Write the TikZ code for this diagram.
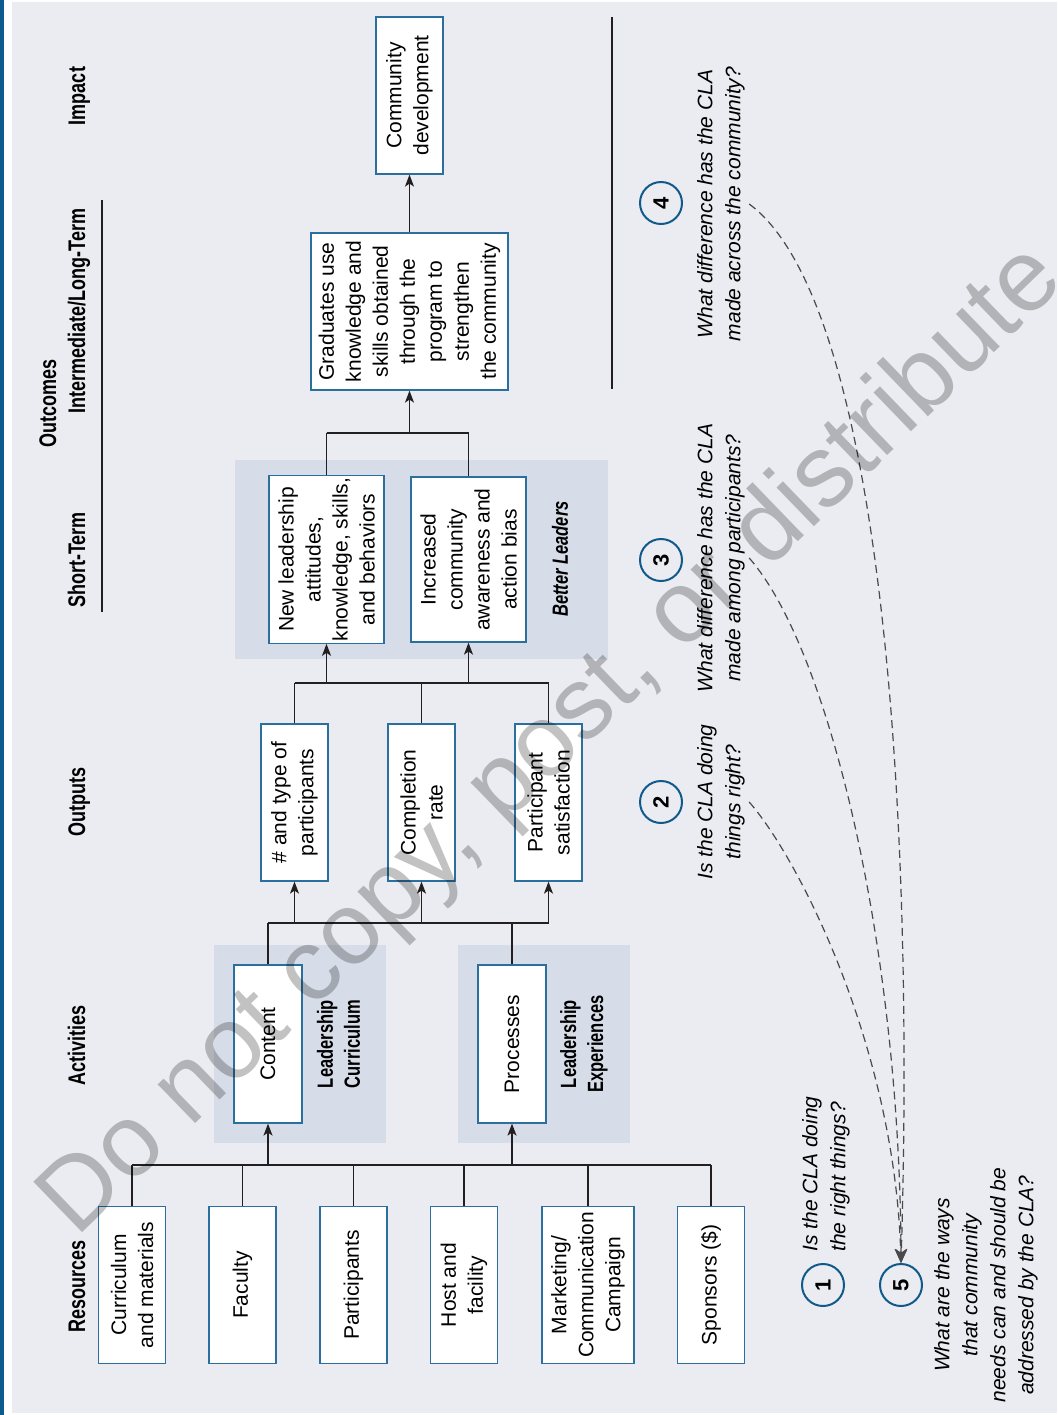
\documentclass[tikz,border=0pt]{standalone}
\usepackage{fontspec}
\setmainfont{Liberation Sans}
\newfontfamily\headfont[FakeStretch=0.75]{Liberation Sans}
\usetikzlibrary{arrows.meta}
\definecolor{pagebg}{HTML}{EBECF1}
\definecolor{grpbg}{HTML}{D6DCE8}
\definecolor{boxblue}{HTML}{2B6F9F}
\definecolor{barblue}{HTML}{0B5B8F}
\definecolor{circblue}{HTML}{0F5A8A}
\definecolor{dashgray}{HTML}{4A4A4A}
\definecolor{linkblack}{HTML}{231F20}

\begin{document}
\begin{tikzpicture}[x=0.5pt,y=-0.5pt]
\tikzset{
  box/.style={draw=boxblue,line width=0.6pt,fill=white,rotate=90,align=center,inner sep=1pt,font=\fontsize{10.5}{13.5}\selectfont},
  tall/.style={box,minimum width=78.5pt,minimum height=33.5pt},
  head/.style={rotate=90,anchor=base,font=\headfont\fontsize{12}{14}\selectfont\bfseries},
  grplabel/.style={rotate=90,align=center,font=\headfont\fontsize{11}{13.5}\selectfont\bfseries},
  ques/.style={rotate=90,align=center,inner sep=2pt,font=\fontsize{10.5}{14}\selectfont\itshape},
  num/.style={circle,draw=circblue,line width=1pt,minimum size=21pt,inner sep=0pt,rotate=90,font=\fontsize{11}{11}\selectfont\bfseries},
  link/.style={draw=linkblack,line width=0.7pt},
  up/.style={link,-{Stealth[length=6pt,width=4.5pt,inset=1.5pt]}},
  qline/.style={draw=dashgray,line width=0.6pt,dash pattern=on 4pt off 2.5pt,-{Stealth[length=7pt,width=6pt,inset=2pt]}},
}
% page
\fill[white] (0,0) rectangle (1057,1415);
\fill[pagebg] (12,2) rectangle (1057,1413);
\fill[barblue] (0,0) rectangle (4,1415);
\useasboundingbox (0,0) rectangle (1057,1415);

% shaded groups
\fill[grpbg] (214,945) rectangle (386,1143);
\fill[grpbg] (458,945) rectangle (630,1143);
\fill[grpbg] (235,460) rectangle (608,659);

% column heads
\node[head] (hres) at (85,1286) {Resources};
\node[head] (hact) at (85,1045) {Activities};
\node[head] (hout) at (85,802) {Outputs};
\node[head] (hst) at (85,560) {Short-Term};
\node[head] (hlt) at (85,311) {Intermediate/Long-Term};
\node[head] (himp) at (85,96) {Impact};
\node[head] (hoc) at (56,403) {Outcomes};
\draw[link] (102,200) -- (102,612);
\draw[link] (612,17) -- (612,389);

% resources
\node[tall] (res1) at (132,1285) {Curriculum\\and materials};
\node[tall] (res2) at (242.5,1285) {Faculty};
\node[tall] (res3) at (353.5,1285) {Participants};
\node[tall] (res4) at (464,1285) {Host and\\facility};
\node[tall,minimum height=46pt] (res5) at (588,1285) {Marketing/\\Communication\\Campaign};
\node[tall] (res6) at (711,1285) {Sponsors (\$)};

% activities
\node[tall,minimum width=79pt,minimum height=34pt] (act1) at (268,1044) {Content};
\node[tall,minimum width=79pt,minimum height=34pt] (act2) at (512,1044) {Processes};
\node[grplabel] (lcur) at (338.5,1044) {Leadership\\Curriculum};
\node[grplabel] (lexp) at (584,1044) {Leadership\\Experiences};

% outputs
\node[tall] (out1) at (294.5,802.5) {\# and type of\\participants};
\node[tall] (out2) at (421.5,802.5) {Completion\\rate};
\node[tall] (out3) at (548.5,802.5) {Participant\\satisfaction};

% outcomes
\node[box,minimum width=82.5pt,minimum height=57.5pt] (st1) at (326.5,559.5) {New leadership\\attitudes,\\knowledge, skills,\\and behaviors};
\node[box,minimum width=82.5pt,minimum height=57.5pt] (st2) at (468.5,559.5) {Increased\\community\\awareness and\\action bias};
\node[grplabel,font=\headfont\fontsize{11}{13.5}\selectfont\bfseries\itshape] (lbet) at (560,559) {Better Leaders};
\node[box,minimum width=78.5pt,minimum height=98.5pt] (lt) at (409.5,311.5) {Graduates use\\knowledge and\\skills obtained\\through the\\program to\\strengthen\\the community};
\node[tall] (imp) at (409.5,95.5) {Community\\development};

% connectors
\coordinate (rbus) at (0,1165);
\coordinate (abus) at (0,923);
\coordinate (obus) at (0,683);
\coordinate (sbus) at (0,433);

\foreach \n in {res1,res2,res3,res4,res5,res6}
  \draw[link] (\n.east) -- (\n.east |- rbus);
\draw[link] (res1.east |- rbus) -- (res6.east |- rbus);
\draw[up] (act1.west |- rbus) -- (act1.west);
\draw[up] (act2.west |- rbus) -- (act2.west);

\foreach \n in {act1,act2}
  \draw[link] (\n.east) -- (\n.east |- abus);
\draw[link] (act1.east |- abus) -- (out3.west |- abus);
\foreach \n in {out1,out2,out3}
  \draw[up] (\n.west |- abus) -- (\n.west);

\foreach \n in {out1,out2,out3}
  \draw[link] (\n.east) -- (\n.east |- obus);
\draw[link] (out1.east |- obus) -- (out3.east |- obus);
\foreach \n in {st1,st2}
  \draw[up] (\n.west |- obus) -- (\n.west);

\foreach \n in {st1,st2}
  \draw[link] (\n.east) -- (\n.east |- sbus);
\draw[link] (st1.east |- sbus) -- (st2.east |- sbus);
\draw[up] (lt.west |- sbus) -- (lt.west);
\draw[up] (lt.east) -- (imp.west);

% evaluation questions
\node[num] (c1) at (823,1285) {1};
\node[num] (c2) at (661,802) {2};
\node[num] (c3) at (661,560) {3};
\node[num] (c4) at (661,203) {4};
\node[num] (c5) at (901,1285) {5};
\node[ques,align=left,anchor=west] (q1) at (826,1256) {Is the CLA doing\\the right things?};
\node[ques] (q2) at (721,802) {Is the CLA doing\\things right?};
\node[ques] (q3) at (721,558) {What difference has the CLA\\made among participants?};
\node[ques] (q4) at (721,204) {What difference has the CLA\\made across the community?};
\node[ques] (q5) at (986,1285) {What are the ways\\that community\\needs can and should be\\addressed by the CLA?};

\draw[qline] (q2.south) .. controls (800,860) and (895,1050) .. (c5.east);
\draw[qline] (q3.south) .. controls (830,650) and (900,950) .. (c5.east);
\draw[qline] (q4.south) .. controls (880,300) and (915,800) .. (c5.east);

% watermark
\node[rotate=44,text=black,text opacity=0.24,font=\fontsize{51}{60}\selectfont] (wm) at (553,742) {Do not copy, post, or distribute};
\end{tikzpicture}
\end{document}
